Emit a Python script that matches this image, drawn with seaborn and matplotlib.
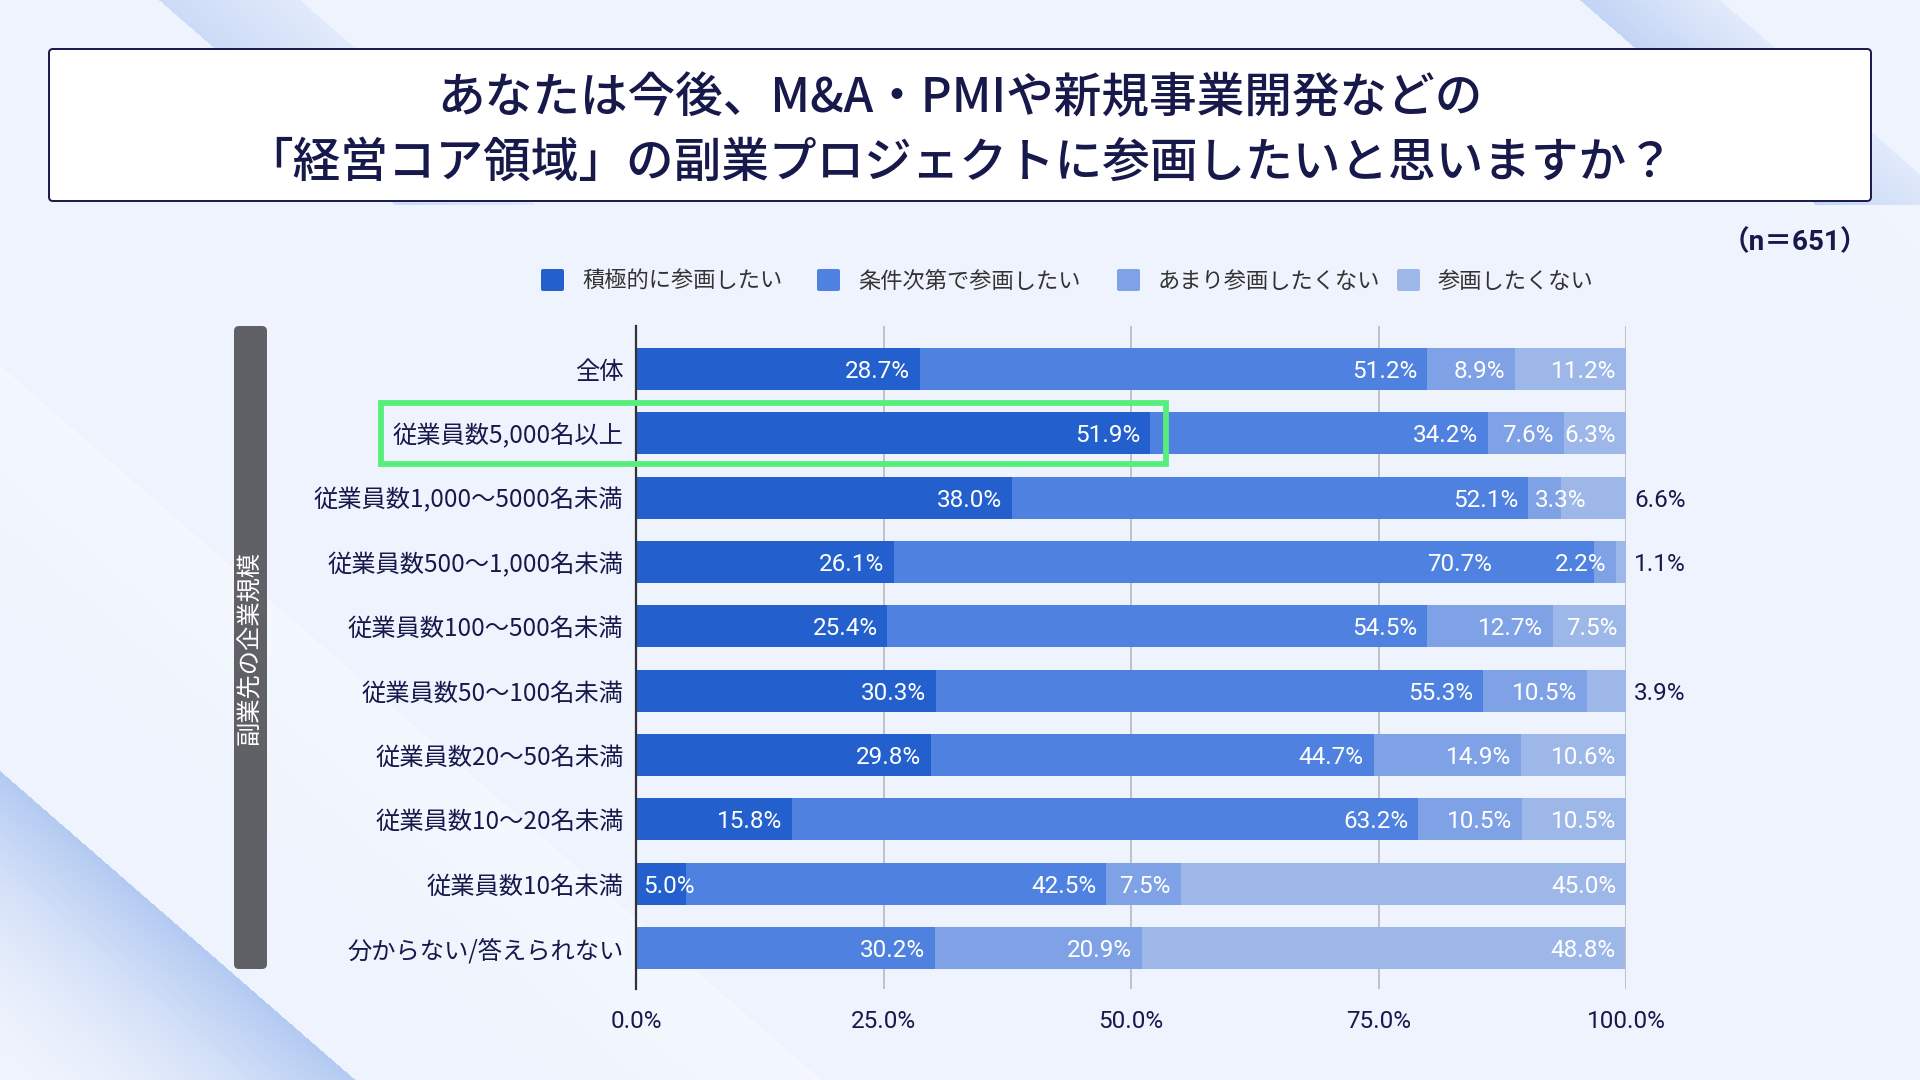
import numpy as np
import pandas as pd
import matplotlib
matplotlib.use("Agg")
import matplotlib.pyplot as plt
import matplotlib.patches as mpatches
import seaborn as sns

# ---------------- data ----------------
categories = [
    "全体",
    "従業員数5,000名以上",
    "従業員数1,000～5000名未満",
    "従業員数500～1,000名未満",
    "従業員数100～500名未満",
    "従業員数50～100名未満",
    "従業員数20～50名未満",
    "従業員数10～20名未満",
    "従業員数10名未満",
    "分からない/答えられない",
]
series_names = ["積極的に参画したい", "条件次第で参画したい", "あまり参画したくない", "参画したくない"]
active = [28.7, 51.9, 38.0, 26.1, 25.4, 30.3, 29.8, 15.8, 5.0, 0.0]
conditional = [51.2, 34.2, 52.1, 70.7, 54.5, 55.3, 44.7, 63.2, 42.5, 30.2]
not_much = [8.9, 7.6, 3.3, 2.2, 12.7, 10.5, 14.9, 10.5, 7.5, 20.9]
not_at_all = [11.2, 6.3, 6.6, 1.1, 7.5, 3.9, 10.6, 10.5, 45.0, 48.8]
x_ticks = [0, 25, 50, 75, 100]
x_tick_labels = ["0.0%", "25.0%", "50.0%", "75.0%", "100.0%"]
title_lines = ["あなたは今後、M&A・PMIや新規事業開発などの",
               "「経営コア領域」の副業プロジェクトに参画したいと思いますか？"]
sample_note = "（n＝651）"
group_label = "副業先の企業規模"
highlight_category = "従業員数5,000名以上"

# ---------------- style ----------------
colors = ["#2360CD", "#4F82E0", "#7FA2E6", "#9DB8E8"]
navy = "#16194A"
bg_color = np.array([0xEE, 0xF3, 0xFD]) / 255.0
JP = ["Noto Sans CJK JP", "DejaVu Sans"]
NUM = ["Roboto", "Noto Sans CJK JP", "DejaVu Sans"]

sns.set_theme(style="white")
plt.rcParams["font.family"] = JP

W, H = 1920, 1080
fig = plt.figure(figsize=(W / 100, H / 100), dpi=100)
fig.patch.set_facecolor(bg_color)

# ---------------- decorative background ----------------
bg_ax = fig.add_axes([0, 0, 1, 1], zorder=-10)
yy, xx = np.mgrid[0:H, 0:W].astype(float)
u = xx - yy / 0.87
img = np.ones((H, W, 3)) * bg_color

def band(u0, u1, col, a0, a1, mask=None, power=1.0):
    col = np.array(col) / 255.0
    t = np.clip((u - u0) / (u1 - u0), 0, 1) ** power
    m = ((u >= u0) & (u <= u1)).astype(float)
    if mask is not None:
        m = m * mask
    a = (a0 + (a1 - a0) * t) * m
    for k in range(3):
        img[..., k] = img[..., k] * (1 - a) + col[k] * a

top_mask = (yy < 205).astype(float)
band(159, 300, (198, 215, 246), 0.85, 0.3, mask=top_mask)
band(1580, 1720, (190, 210, 244), 0.9, 0.25, mask=top_mask)
band(1450, 1700, (246, 249, 255), 0.0, 0.5, mask=((yy > 205) & (yy < 420)).astype(float))
band(-1200, -886, (176, 200, 241), 0.0, 0.95, power=1.6)
band(-760, -420, (247, 250, 255), 0.0, 0.7)
bg_ax.imshow(img, aspect="auto", extent=[0, W, H, 0])
bg_ax.set_axis_off()

# ---------------- main axes ----------------
ax_left, ax_right, ax_top, ax_bottom = 636, 1626, 326, 989
ax = fig.add_axes([ax_left / W, 1 - ax_bottom / H, (ax_right - ax_left) / W, (ax_bottom - ax_top) / H])
ax.set_facecolor("none")

values = [active, conditional, not_much, not_at_all]
cum = np.cumsum(np.array(values), axis=0)
for j in range(len(series_names) - 1, -1, -1):
    df = pd.DataFrame({"category": categories, "value": cum[j]})
    sns.barplot(data=df, x="value", y="category", order=categories, orient="h",
                color=colors[j], saturation=1, width=0.65, errorbar=None,
                linewidth=0, ax=ax, zorder=2)

ax.set_xlim(0, 100)
ax.set_ylim(9.637, -0.668)
ax.set_xticks(x_ticks)
ax.set_xticklabels(x_tick_labels, fontfamily=NUM, fontsize=17.5, color=navy)
ax.set_yticks(range(len(categories)))
ax.set_yticklabels(categories, fontfamily=JP, fontsize=17.5, color=navy)
ax.tick_params(axis="x", length=0, pad=15)
ax.tick_params(axis="y", length=0, pad=9)
ax.set_xlabel("")
ax.set_ylabel("")
ax.xaxis.grid(True, color="#BDBDBD", linewidth=1.3, zorder=0)
ax.yaxis.grid(False)
ax.set_axisbelow(True)
for s in ["top", "right", "bottom"]:
    ax.spines[s].set_visible(False)
ax.spines["left"].set_color("#333333")
ax.spines["left"].set_linewidth(1.6)
ax.spines["left"].set_zorder(5)

# bar labels
label_mode = {(2, 2): "start", (2, 3): "outside", (3, 3): "outside",
              (5, 3): "outside", (8, 0): "start"}
label_offset = {(3, 1): -9.3}
pad = 1.0
lab_fs = 17.5
dy = 0.04
for i in range(len(categories)):
    start = 0.0
    for j in range(len(series_names)):
        v = values[j][i]
        end = start + v
        if v > 0:
            mode = label_mode.get((i, j), "end")
            txt = f"{v:.1f}%"
            if mode == "end":
                ax.text(end - pad + label_offset.get((i, j), 0), i + dy, txt, ha="right", va="center",
                        color="white", fontsize=lab_fs, fontfamily=NUM, zorder=6)
            elif mode == "start":
                ax.text(start + 0.7, i + dy, txt, ha="left", va="center", color="white",
                        fontsize=lab_fs, fontfamily=NUM, zorder=6)
            else:
                ax.text(100 + 0.8, i + dy, txt, ha="left", va="center", color=navy,
                        fontsize=lab_fs, fontfamily=NUM, zorder=6, clip_on=False)
        start = end

# highlight rectangle
hi = categories.index(highlight_category)
x0 = (381 - ax_left) / (ax_right - ax_left) * 100
x1 = (1166 - ax_left) / (ax_right - ax_left) * 100
ax.add_patch(mpatches.Rectangle((x0, hi - 0.475), x1 - x0, 0.95, fill=False,
                                edgecolor="#58EE7C", linewidth=4.2, clip_on=False, zorder=7))

# ---------------- title box ----------------
def inch(x, y):
    return x / 100, (H - y) / 100

bx, by = inch(49, 201)
fig.patches.append(mpatches.FancyBboxPatch(
    (bx, by), (1871 - 49) / 100, (201 - 49) / 100,
    boxstyle="round,pad=0,rounding_size=0.04", transform=fig.dpi_scale_trans,
    facecolor="white", edgecolor=navy, linewidth=1.4, zorder=1))
for line, yc in zip(title_lines, [99, 163]):
    tx, ty = inch(960, yc)
    fig.text(tx, ty, line, transform=fig.dpi_scale_trans, ha="center", va="center",
             fontsize=34.3, fontweight="medium", color=navy, fontfamily=JP, zorder=3)

nx, ny = inch(1868, 243)
fig.text(nx, ny, sample_note, transform=fig.dpi_scale_trans, ha="right", va="center",
         fontsize=20, fontweight="bold", color=navy, fontfamily=NUM)

# ---------------- legend ----------------
legend_x = [541, 817, 1117, 1397]
for name, col, lx in zip(series_names, colors, legend_x):
    sx, sy = inch(lx, 291)
    fig.patches.append(mpatches.FancyBboxPatch(
        (sx, sy), 0.23, 0.22, boxstyle="round,pad=0,rounding_size=0.02",
        transform=fig.dpi_scale_trans, facecolor=col, edgecolor="none"))
    tx, ty = inch(lx + 41, 281)
    fig.text(tx, ty, name, transform=fig.dpi_scale_trans, ha="left", va="center",
             fontsize=16, color="#333333", fontfamily=JP)

# ---------------- side group label ----------------
gx, gy = inch(234, 969)
fig.patches.append(mpatches.FancyBboxPatch(
    (gx, gy), 0.33, (969 - 326) / 100, boxstyle="round,pad=0,rounding_size=0.05",
    transform=fig.dpi_scale_trans, facecolor="#5F6166", edgecolor="none"))
tx, ty = inch(250.5, 648)
fig.text(tx, ty, group_label, transform=fig.dpi_scale_trans, rotation=90,
         ha="center", va="center", fontsize=17.5, color="white", fontfamily=JP)

fig.savefig("out.png", dpi=100, facecolor=fig.get_facecolor())
